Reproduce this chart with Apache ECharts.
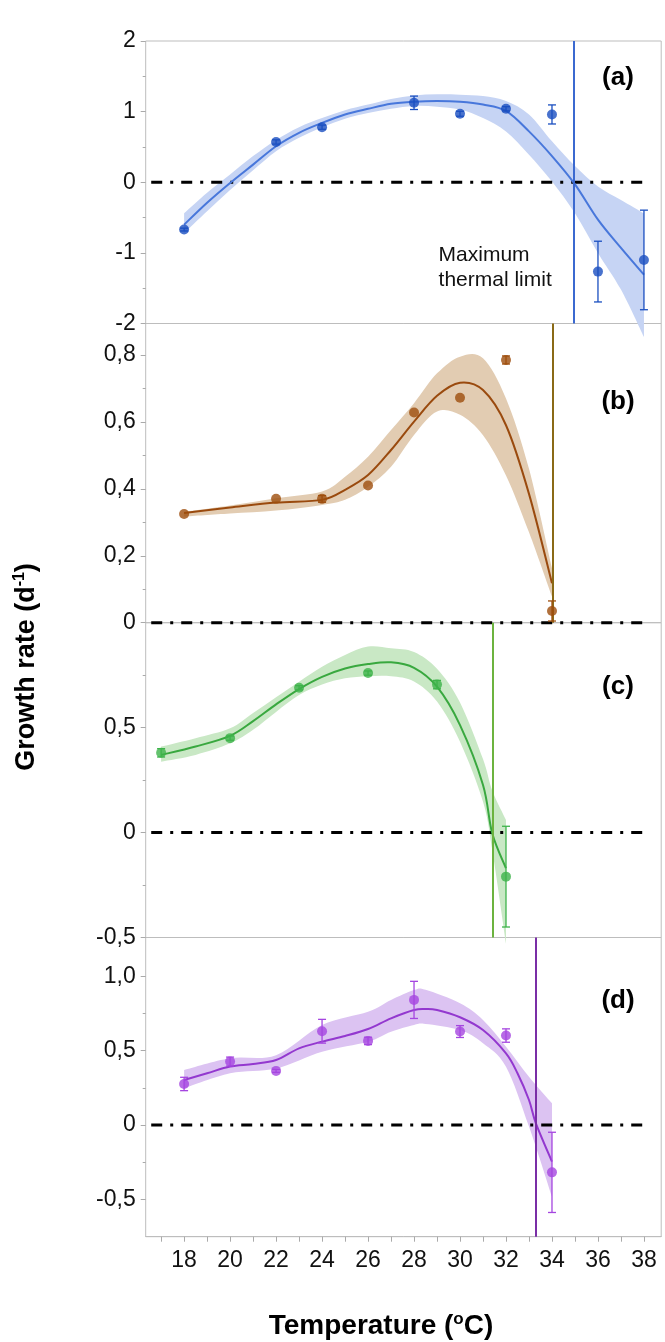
<!DOCTYPE html>
<html>
<head>
<meta charset="utf-8">
<title>Growth rate vs temperature</title>
<script src="https://cdn.jsdelivr.net/npm/echarts@6/dist/echarts.min.js"></script>
<style>
html, body { margin: 0; padding: 0; background: #fff; }
#main { width: 665px; height: 1342px; }
</style>
</head>
<body>
<div id="main"></div>
<script>
// ---- measured points: temperature, mean growth rate, error bar half length ----
var tempA = [18, 22, 24, 28, 30, 32, 34, 36, 38];
var rateA = [-0.67, 0.57, 0.78, 1.125, 0.97, 1.04, 0.96, -1.265, -1.10];
var errA  = [0.02, 0.03, 0.03, 0.095, 0.035, 0.03, 0.135, 0.43, 0.705];

var tempB = [18, 22, 24, 26, 28, 30, 32, 34];
var rateB = [0.325, 0.37, 0.37, 0.41, 0.628, 0.672, 0.785, 0.035];
var errB  = [0, 0, 0.01, 0, 0, 0, 0.012, 0.03];

var tempC = [17, 20, 23, 26, 29, 32];
var rateC = [0.38, 0.45, 0.69, 0.76, 0.705, -0.21];
var errC  = [0.02, 0.01, 0.01, 0.01, 0.02, 0.24];

var tempD = [18, 20, 22, 24, 26, 28, 30, 32, 34];
var rateD = [0.276, 0.427, 0.364, 0.631, 0.566, 0.842, 0.629, 0.602, -0.319];
var errD  = [0.045, 0.03, 0.01, 0.08, 0.025, 0.125, 0.04, 0.045, 0.27];

// ---- fitted curves and confidence bands ----
var fitTA = [18, 19, 20, 21, 22, 23, 24, 25, 26, 27, 28, 29, 30, 31, 32, 33, 34, 35, 36, 37, 38];
var fitA  = [-0.60, -0.29, -0.01, 0.25, 0.51, 0.70, 0.84, 0.96, 1.04, 1.11, 1.14, 1.15, 1.14, 1.10, 1.01, 0.72, 0.37, -0.03, -0.53, -0.93, -1.31];
var hiA   = [-0.44, -0.15, 0.11, 0.37, 0.60, 0.78, 0.91, 1.02, 1.10, 1.18, 1.23, 1.245, 1.24, 1.22, 1.15, 0.96, 0.58, 0.23, -0.06, -0.25, -0.44];
var loA   = [-0.72, -0.41, -0.11, 0.17, 0.44, 0.63, 0.78, 0.90, 0.98, 1.04, 1.08, 1.07, 1.03, 0.91, 0.72, 0.39, 0.01, -0.44, -1.00, -1.52, -2.19];

var fitTB = [18, 20, 22, 24, 25, 26, 27, 28, 29, 30, 31, 32, 33, 34];
var fitB  = [0.328, 0.344, 0.359, 0.367, 0.397, 0.441, 0.516, 0.601, 0.678, 0.717, 0.695, 0.59, 0.385, 0.118];
var hiB   = [0.331, 0.35, 0.372, 0.392, 0.436, 0.496, 0.576, 0.656, 0.745, 0.795, 0.79, 0.67, 0.46, 0.163];
var loB   = [0.317, 0.326, 0.335, 0.352, 0.367, 0.406, 0.466, 0.561, 0.631, 0.621, 0.56, 0.44, 0.27, 0.078];

var fitTC = [17, 18.5, 20, 21, 22, 23, 24, 25, 26, 27, 28, 29, 30, 31, 31.4, 32];
var fitC  = [0.37, 0.41, 0.461, 0.531, 0.611, 0.684, 0.742, 0.782, 0.803, 0.811, 0.785, 0.695, 0.512, 0.227, -0.003, -0.17];
var hiC   = [0.41, 0.45, 0.497, 0.57, 0.645, 0.719, 0.79, 0.846, 0.886, 0.878, 0.86, 0.78, 0.62, 0.35, 0.20, 0.06];
var loC   = [0.338, 0.37, 0.425, 0.49, 0.575, 0.655, 0.705, 0.735, 0.745, 0.745, 0.72, 0.624, 0.433, 0.147, -0.08, -0.53];

var fitTD = [18, 19, 20, 21, 22, 23, 24, 25, 26, 27, 28, 28.5, 29, 30, 31, 32, 32.5, 33, 33.3, 34];
var fitD  = [0.303, 0.348, 0.393, 0.41, 0.437, 0.516, 0.561, 0.599, 0.646, 0.718, 0.774, 0.781, 0.774, 0.725, 0.639, 0.482, 0.348, 0.168, 0.011, -0.247];
var bandTD = [18, 20, 22, 24, 26, 27, 28, 28.5, 30, 31, 32, 33, 34];
var hiD   = [0.37, 0.449, 0.47, 0.673, 0.762, 0.841, 0.908, 0.91, 0.819, 0.707, 0.527, 0.325, 0.146];
var loD   = [0.247, 0.348, 0.38, 0.493, 0.561, 0.628, 0.673, 0.68, 0.639, 0.55, 0.392, -0.011, -0.483];

// maximum thermal limit (x where the fit crosses zero)
var limitA = 34.96, limitB = 34.04, limitC = 31.42, limitD = 33.3;

// ---- axes ----
var xMin = 16.33, xMax = 38.75;
var xTicks = [18, 20, 22, 24, 26, 28, 30, 32, 34, 36, 38];
var xMinorTicks = [17, 19, 21, 23, 25, 27, 29, 31, 33, 35, 37];
var zeroFrom = 16.57, zeroTo = 37.95;

var yRangeA = [-2, 2],       yTicksA = [-2, -1, 0, 1, 2],        yLabelsA = ['-2', '-1', '0', '1', '2'],         yMinorA = [-1.5, -0.5, 0.5, 1.5];
var yRangeB = [0, 0.894],    yTicksB = [0, 0.2, 0.4, 0.6, 0.8],  yLabelsB = ['0', '0,2', '0,4', '0,6', '0,8'],  yMinorB = [0.1, 0.3, 0.5, 0.7];
var yRangeC = [-0.5, 1.0],   yTicksC = [-0.5, 0, 0.5],           yLabelsC = ['-0,5', '0', '0,5'],               yMinorC = [-0.25, 0.25, 0.75];
var yRangeD = [-0.752, 1.262], yTicksD = [-0.5, 0, 0.5, 1.0],    yLabelsD = ['-0,5', '0', '0,5', '1,0'],        yMinorD = [-0.25, 0.25, 0.75];

var FONT = '"Liberation Sans", Arial, Helvetica, sans-serif';
var FRAME = '#bdbdbd';

var panels = [
  { t: tempA, v: rateA, e: errA, ft: fitTA, f: fitA, bt: fitTA, hi: hiA, lo: loA, lim: limitA,
    yr: yRangeA, yt: yTicksA, yl: yLabelsA, ym: yMinorA,
    point: '#1a4fc0', line: '#4877db', band: '#c6d4f4', vline: '#3b69d0', tag: '(a)' },
  { t: tempB, v: rateB, e: errB, ft: fitTB, f: fitB, bt: fitTB, hi: hiB, lo: loB, lim: limitB,
    yr: yRangeB, yt: yTicksB, yl: yLabelsB, ym: yMinorB,
    point: '#9e4d0c', line: '#9a4a0e', band: '#e2ccb2', vline: '#8a6a16', tag: '(b)' },
  { t: tempC, v: rateC, e: errC, ft: fitTC, f: fitC, bt: fitTC, hi: hiC, lo: loC, lim: limitC,
    yr: yRangeC, yt: yTicksC, yl: yLabelsC, ym: yMinorC,
    point: '#3db34a', line: '#39a83f', band: '#c9e8c5', vline: '#6cb33f', tag: '(c)' },
  { t: tempD, v: rateD, e: errD, ft: fitTD, f: fitD, bt: bandTD, hi: hiD, lo: loD, lim: limitD,
    yr: yRangeD, yt: yTicksD, yl: yLabelsD, ym: yMinorD,
    point: '#a545e0', line: '#9338cf', band: '#dcc3f2', vline: '#7a2ea6', tag: '(d)' }
];

// panel boxes in pixels (top, height)
var boxes = [[41, 282.5], [323.5, 299.2], [622.7, 314.8], [937.5, 299.2]];

function pairs(xs, ys) {
  return xs.map(function (x, i) { return [x, ys[i]]; });
}

// smooth path through pixel points (catmull-rom as cubic beziers)
function smoothSegs(pts) {
  var d = '';
  for (var i = 0; i < pts.length - 1; i++) {
    var p0 = pts[i - 1] || pts[i], p1 = pts[i], p2 = pts[i + 1], p3 = pts[i + 2] || pts[i + 1];
    var c1x = p1[0] + (p2[0] - p0[0]) / 6, c1y = p1[1] + (p2[1] - p0[1]) / 6;
    var c2x = p2[0] - (p3[0] - p1[0]) / 6, c2y = p2[1] - (p3[1] - p1[1]) / 6;
    d += ' C' + c1x + ' ' + c1y + ' ' + c2x + ' ' + c2y + ' ' + p2[0] + ' ' + p2[1];
  }
  return d;
}

function bandRenderer(ts, hi, lo, color) {
  return function (params, api) {
    if (params.dataIndex !== 0) return null;
    var up = ts.map(function (t, k) { return api.coord([t, hi[k]]); });
    var dn = ts.map(function (t, k) { return api.coord([t, lo[k]]); }).reverse();
    var d = 'M' + up[0][0] + ' ' + up[0][1] + smoothSegs(up) +
            ' L' + dn[0][0] + ' ' + dn[0][1] + smoothSegs(dn) + ' Z';
    return { type: 'path', shape: { pathData: d }, style: { fill: color, stroke: null } };
  };
}

function curveRenderer(ts, ys, color) {
  return function (params, api) {
    if (params.dataIndex !== 0) return null;
    var pts = ts.map(function (t, k) { return api.coord([t, ys[k]]); });
    var d = 'M' + pts[0][0] + ' ' + pts[0][1] + smoothSegs(pts);
    return { type: 'path', shape: { pathData: d }, style: { fill: null, stroke: color, lineWidth: 2 } };
  };
}

var grids = [], xAxes = [], yAxes = [], series = [], graphics = [];

panels.forEach(function (p, i) {
  grids.push({
    left: 145.7, right: 3.8, top: boxes[i][0], height: boxes[i][1],
    show: true, borderColor: FRAME, borderWidth: 1, backgroundColor: 'transparent'
  });

  var last = i === panels.length - 1;
  xAxes.push({
    type: 'value', gridIndex: i, min: xMin, max: xMax, show: last, position: 'bottom',
    axisLine: { show: true, onZero: false, lineStyle: { color: FRAME } },
    axisTick: { show: true, length: 5, lineStyle: { color: '#aaa' }, customValues: xTicks.concat(xMinorTicks) },
    axisLabel: { customValues: xTicks, fontSize: 23, color: '#111', fontFamily: FONT, margin: 12 },
    splitLine: { show: false }
  });

  yAxes.push({
    type: 'value', gridIndex: i, position: 'left', offset: 0, min: p.yr[0], max: p.yr[1],
    axisLine: { show: false, onZero: false },
    axisTick: { show: true, length: 5, lineStyle: { color: '#aaa' }, customValues: p.yt },
    axisLabel: {
      customValues: p.yt, fontSize: 23, color: '#111', fontFamily: FONT, margin: 10,
      showMinLabel: true, showMaxLabel: true,
      formatter: (function (ticks, labels) {
        return function (v) {
          for (var k = 0; k < ticks.length; k++) {
            if (Math.abs(ticks[k] - v) < 1e-6) return labels[k];
          }
          return '';
        };
      })(p.yt, p.yl)
    },
    splitLine: { show: false }
  });
  yAxes.push({
    type: 'value', gridIndex: i, position: 'left', offset: 0, min: p.yr[0], max: p.yr[1],
    axisLine: { show: false, onZero: false },
    axisTick: { show: true, length: 3, lineStyle: { color: '#aaa' }, customValues: p.ym },
    axisLabel: { show: false },
    splitLine: { show: false }
  });

  var yi = i * 2;
  // confidence band
  series.push({
    type: 'custom', xAxisIndex: i, yAxisIndex: yi, clip: false, silent: true, z: 1,
    data: p.bt.map(function (t, k) { return [t, p.lo[k], p.hi[k]]; }),
    encode: { x: 0, y: [1, 2] },
    renderItem: bandRenderer(p.bt, p.hi, p.lo, p.band)
  });
  // zero reference line, with the thermal limit marker
  series.push({
    type: 'line', xAxisIndex: i, yAxisIndex: yi, data: [[zeroFrom, 0], [zeroTo, 0]],
    symbol: 'none', clip: false, silent: true, z: 2,
    lineStyle: { color: '#000', width: 3, type: [11, 8, 3, 8] },
    markLine: {
      silent: true, symbol: ['none', 'none'], label: { show: false }, z: 4,
      lineStyle: { color: p.vline, width: 2, type: 'solid' },
      data: [{ xAxis: p.lim }]
    }
  });
  // fitted curve
  series.push({
    type: 'custom', xAxisIndex: i, yAxisIndex: yi, clip: false, silent: true, z: 3,
    data: pairs(p.ft, p.f),
    renderItem: curveRenderer(p.ft, p.f, p.line)
  });
  // error bars
  series.push({
    type: 'custom', xAxisIndex: i, yAxisIndex: yi, clip: false, silent: true, z: 4,
    data: p.t.map(function (x, k) { return [x, p.v[k], p.e[k]]; }),
    renderItem: (function (color) {
      return function (params, api) {
        var x = api.value(0), y = api.value(1), e = api.value(2);
        if (!e) return null;
        var a = api.coord([x, y + e]), b = api.coord([x, y - e]);
        var w = 4, st = { stroke: color, lineWidth: 1.3 };
        return {
          type: 'group', children: [
            { type: 'line', shape: { x1: a[0], y1: a[1], x2: b[0], y2: b[1] }, style: st },
            { type: 'line', shape: { x1: a[0] - w, y1: a[1], x2: a[0] + w, y2: a[1] }, style: st },
            { type: 'line', shape: { x1: b[0] - w, y1: b[1], x2: b[0] + w, y2: b[1] }, style: st }
          ]
        };
      };
    })(p.point)
  });
  // means
  series.push({
    type: 'scatter', xAxisIndex: i, yAxisIndex: yi, data: pairs(p.t, p.v),
    symbolSize: 10, itemStyle: { color: p.point }, silent: true, z: 5
  });

  graphics.push({
    type: 'text', x: 618, y: [77.5, 402, 687, 1001][i],
    style: { text: p.tag, font: 'bold 26px ' + FONT, fill: '#000', align: 'center', verticalAlign: 'middle' }
  });
});

graphics.push({
  type: 'text', x: 438.6, y: 242.5,
  style: { text: 'Maximum\nthermal limit', font: '21px ' + FONT, lineHeight: 25, fill: '#111', align: 'left', verticalAlign: 'top' }
});
graphics.push({
  type: 'text', x: 27, y: 667, rotation: Math.PI / 2,
  style: {
    text: '{b|Growth rate (d}{s|-1}{b|)}', align: 'center', verticalAlign: 'middle',
    rich: {
      b: { fontSize: 27, fontWeight: 'bold', fontFamily: FONT, lineHeight: 30, fill: '#000' },
      s: { fontSize: 16, fontWeight: 'bold', fontFamily: FONT, lineHeight: 16, verticalAlign: 'top', fill: '#000' }
    }
  }
});
graphics.push({
  type: 'text', x: 381, y: 1326,
  style: {
    text: '{b|Temperature (}{s|o}{b|C)}', align: 'center', verticalAlign: 'middle',
    rich: {
      b: { fontSize: 28, fontWeight: 'bold', fontFamily: FONT, lineHeight: 30, fill: '#000' },
      s: { fontSize: 17, fontWeight: 'bold', fontFamily: FONT, lineHeight: 17, verticalAlign: 'top', fill: '#000' }
    }
  }
});

var myChart = echarts.init(document.getElementById('main'));
myChart.setOption({
  animation: false,
  backgroundColor: '#fff',
  textStyle: { fontFamily: FONT },
  grid: grids,
  xAxis: xAxes,
  yAxis: yAxes,
  series: series,
  graphic: graphics
});
</script>
</body>
</html>
